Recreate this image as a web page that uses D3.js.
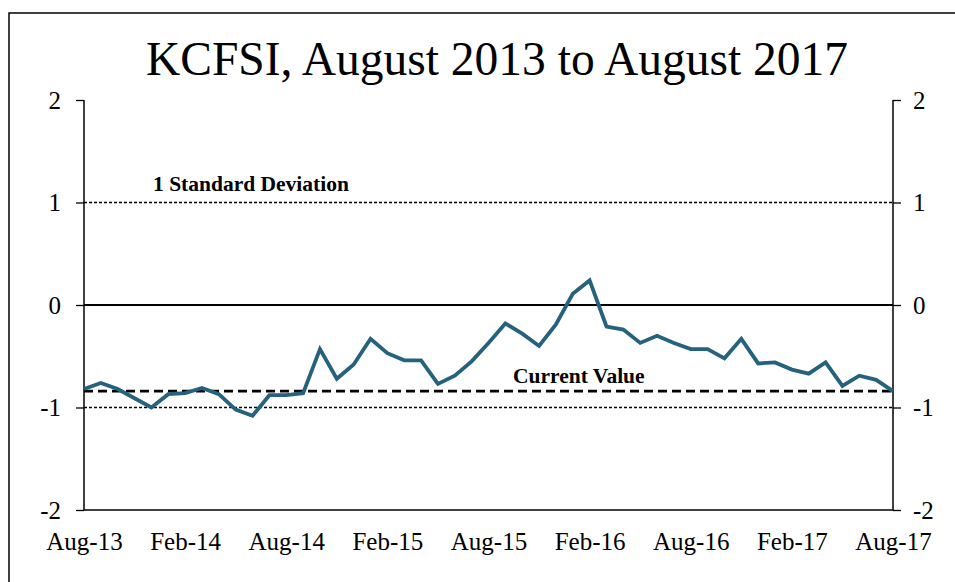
<!DOCTYPE html>
<html><head><meta charset="utf-8">
<script src="https://cdn.jsdelivr.net/npm/d3@7"></script>
<style>body{margin:0;background:#fff;} text{font-family:"Liberation Serif","Times New Roman",serif;}</style>
</head><body><svg id="c" width="955" height="582"></svg>
<script>
const title = "KCFSI, August 2013 to August 2017";
const months = d3.range(49);
const values = [-0.82,-0.76,-0.82,-0.91,-1.00,-0.87,-0.86,-0.81,-0.87,-1.02,-1.08,-0.88,-0.88,-0.86,-0.43,-0.72,-0.58,
 -0.33,-0.47,-0.54,-0.54,-0.77,-0.69,-0.55,-0.37,-0.18,-0.28,-0.40,-0.19,0.11,0.24,-0.21,-0.24,
 -0.37,-0.30,-0.37,-0.43,-0.43,-0.52,-0.33,-0.57,-0.56,-0.63,-0.67,-0.56,-0.79,-0.69,-0.73,-0.84];
const xTickLabels = ["Aug-13","Feb-14","Aug-14","Feb-15","Aug-15","Feb-16","Aug-16","Feb-17","Aug-17"];
const xTickIndex = [0,6,12,18,24,30,36,42,48];
const yTicks = [-2,-1,0,1,2];
const stdDev = [1,-1];
const currentValue = values[values.length-1];

const svg = d3.select("#c");
svg.append("rect").attr("x",9).attr("y",13).attr("width",960).attr("height",600)
  .attr("fill","none").attr("stroke","#000").attr("stroke-width",1.5);

const x = d3.scaleLinear().domain([0,48]).range([84,893]);
const y = d3.scaleLinear().domain([-2,2]).range([510,100]);

svg.append("text").attr("x",497).attr("y",75).attr("text-anchor","middle")
  .attr("font-size",47.5).text(title);

// std dev lines
stdDev.forEach(v=>{
  svg.append("line").attr("x1",x(0)).attr("x2",x(48)).attr("y1",y(v)).attr("y2",y(v))
    .attr("stroke","#000").attr("stroke-width",1.3).attr("stroke-dasharray","3,2");
});
// zero line
svg.append("line").attr("x1",x(0)).attr("x2",x(48)).attr("y1",y(0)).attr("y2",y(0))
  .attr("stroke","#000").attr("stroke-width",2);
// current value
svg.append("line").attr("x1",x(0)).attr("x2",x(48)).attr("y1",y(currentValue)).attr("y2",y(currentValue))
  .attr("stroke","#000").attr("stroke-width",2.8).attr("stroke-dasharray","9,5");

// bottom axis line
svg.append("line").attr("x1",x(0)).attr("x2",x(48)).attr("y1",y(-2)).attr("y2",y(-2))
  .attr("stroke","#000").attr("stroke-width",1.5);

const fmt = d => String(d);
const left = svg.append("g").attr("transform",`translate(${x(0)},0)`)
  .call(d3.axisLeft(y).tickValues(yTicks).tickSize(8).tickPadding(15).tickFormat(fmt));
const right = svg.append("g").attr("transform",`translate(${x(48)},0)`)
  .call(d3.axisRight(y).tickValues(yTicks).tickSize(8).tickPadding(12).tickFormat(fmt));
[left,right].forEach(g=>{
  g.select(".domain").remove();
  g.selectAll(".tick line").attr("stroke","#000").attr("stroke-width",1.3);
  g.selectAll("text").attr("font-size",25).attr("fill","#000");
  g.append("line").attr("x1",0).attr("x2",0).attr("y1",y(2)).attr("y2",y(-2))
    .attr("stroke","#000").attr("stroke-width",1.5);
});

const bottom = svg.append("g").attr("transform",`translate(0,${y(-2)})`)
  .call(d3.axisBottom(x).tickValues(xTickIndex).tickSize(0).tickPadding(22)
    .tickFormat((d,i)=>xTickLabels[i]));
bottom.select(".domain").remove();
bottom.selectAll("text").attr("font-size",25).attr("fill","#000");

// labels
svg.append("text").attr("x",153).attr("y",191).attr("font-size",21.5).attr("font-weight","bold")
  .text("1 Standard Deviation");
svg.append("text").attr("x",513).attr("y",383).attr("font-size",21.5).attr("font-weight","bold")
  .text("Current Value");

// series line
const line = d3.line().x((d,i)=>x(months[i])).y(d=>y(d));
svg.append("path").datum(values).attr("d",line).attr("fill","none")
  .attr("stroke","#24627e").attr("stroke-width",3.8).attr("stroke-linejoin","miter");
</script></body></html>
